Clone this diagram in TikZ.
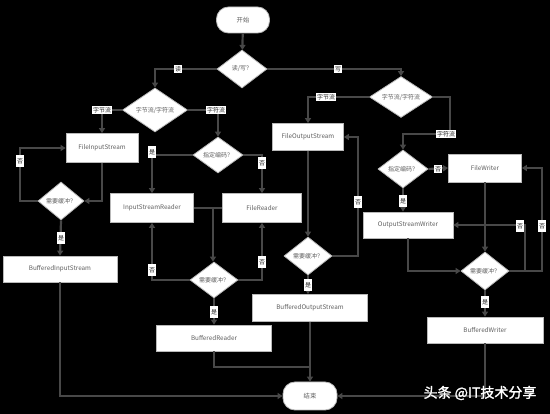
\documentclass[tikz,border=0pt]{standalone}
\usepackage{fontspec}
\setmainfont{Noto Sans CJK SC}
\newfontfamily\wmfont[FakeBold=1.5]{Noto Sans CJK SC}
\usetikzlibrary{shapes.geometric,arrows.meta}
\definecolor{lc}{RGB}{72,72,72}
\definecolor{tc}{RGB}{95,95,95}
\begin{document}
\begin{tikzpicture}[x=1pt,y=-1pt,
  box/.style={rectangle, draw=gray!55, line width=0.8pt, fill=white, text=tc,
    font=\fontsize{6.3}{7}\selectfont, inner sep=0pt},
  dia/.style={diamond, aspect=1.5, draw=gray!55, line width=0.8pt, fill=white, text=tc,
    font=\fontsize{6}{7}\selectfont, inner sep=0pt},
  term/.style={box, rounded corners=12pt},
  ln/.style={draw=lc, line width=2.2pt},
  arr/.style={ln, -{Triangle[length=5pt,width=6pt]}},
  lbl/.style={fill=white, text=black!85, font=\fontsize{6}{7}\selectfont, inner xsep=1pt, inner ysep=1.5pt},
  vlbl/.style={lbl, inner ysep=3.5pt}]
\fill[black] (0,0) rectangle (550,414);
\useasboundingbox (0,0) rectangle (550,414);

% nodes
\node[term, minimum width=53pt, minimum height=26pt] (start) at (243,20) {开始};
\node[dia, minimum width=50pt, minimum height=38pt] (rw) at (242,69) {读/写？};
\node[dia, minimum width=65pt, minimum height=44pt] (bcL) at (155,110) {字节流/字符流};
\node[dia, minimum width=63pt, minimum height=41pt] (bcR) at (401,97) {字节流/字符流};
\node[box, minimum width=72pt, minimum height=29pt] (fis) at (102,148) {FileInputStream};
\node[dia, minimum width=50pt, minimum height=36pt] (encL) at (218,155) {指定编码？};
\node[dia, minimum width=46pt, minimum height=38pt] (bufL) at (61,201) {需要缓冲？};
\node[box, minimum width=114pt, minimum height=26pt] (bis) at (60,269) {BufferedInputStream};
\node[box, minimum width=83pt, minimum height=29pt] (isr) at (152,208) {InputStreamReader};
\node[box, minimum width=79pt, minimum height=29pt] (fr) at (262,208) {FileReader};
\node[dia, minimum width=48pt, minimum height=36pt] (bufM) at (214,280) {需要缓冲？};
\node[box, minimum width=115pt, minimum height=26pt] (br) at (214,338) {BufferedReader};
\node[box, minimum width=71pt, minimum height=27pt] (fos) at (308,137) {FileOutputStream};
\node[dia, minimum width=48pt, minimum height=38pt] (bufO) at (308,256) {需要缓冲？};
\node[box, minimum width=115pt, minimum height=27pt] (bos) at (310,308) {BufferedOutputStream};
\node[dia, minimum width=50pt, minimum height=38pt] (encR) at (403,169) {指定编码？};
\node[box, minimum width=73pt, minimum height=28pt] (fw) at (485,168) {FileWriter};
\node[box, minimum width=90pt, minimum height=26pt] (osw) at (408,225) {OutputStreamWriter};
\node[dia, minimum width=48pt, minimum height=38pt] (bufW) at (485,271) {需要缓冲？};
\node[box, minimum width=116pt, minimum height=26pt] (bw) at (485,330) {BufferedWriter};
\node[term, minimum width=54pt, minimum height=28pt] (end) at (310,396) {结束};

% junction coordinates
\coordinate (jR) at (213,208);
\coordinate (jB) at (310,367);

% connectors
\draw[arr] (start) -- (rw);
\draw[arr] (rw.west) -| (bcL.north);
\draw[arr] (rw.east) -| (bcR.north);
\draw[arr] (bcL.west) -| (fis.north);
\draw[arr] (bcL.east) -| (encL.north);
\draw[arr] (bcR.west) -| (fos.north);
\draw[arr] (bcR.east) -- (450,97) -- (450,134) -| (encR.north);
\draw[arr] (fis.south) |- (bufL.east);
\draw[arr] (bufL.west) -- (20,201) |- (fis.west);
\draw[arr] (bufL.south) -- (bis.north);
\draw[arr] (bis.south) |- (end.west);
\draw[arr] (encL.west) -| (isr.north);
\draw[arr] (encL.east) -| (fr.north);
\draw[ln] (isr.east) -- (fr.west);
\draw[arr] (jR) -- (jR |- bufM.north);
\draw[arr] (bufM.west) -| (isr.south);
\draw[arr] (bufM.east) -| (fr.south);
\draw[arr] (bufM.south) -- (br.north);
\draw[ln] (br.south) |- (jB);
\draw[arr] (fos.south) -- (bufO.north);
\draw[arr] (bufO.east) -- (358,256) |- (fos.east);
\draw[arr] (bufO.south) -- (bufO.south |- bos.north);
\draw[arr] (bos.south) -- (end.north);
\draw[arr] (encR.east) -- (fw.west);
\draw[arr] (encR.south) -- (encR.south |- osw.north);
\draw[arr] (fw.south) -- (bufW.north);
\draw[arr] (osw.south) |- (bufW.west);
\draw[arr] (bufW.east) -- (525,271) |- (osw.east);
\draw[arr] (bufW.east) -- (542,271) |- (fw.east);
\draw[arr] (bufW.south) -- (bw.north);
\draw[arr] (bw.south) |- (end.east);

% labels
\node[lbl] (l1) at (178,69) {读};
\node[lbl] (l2) at (338,69) {写};
\node[lbl] (l3) at (102,110) {字节流};
\node[lbl] (l4) at (216,110) {字符流};
\node[lbl] (l5) at (326,97) {字节流};
\node[lbl] (l6) at (446,134) {字符流};
\node[vlbl] (l7) at (20,161) {否};
\node[vlbl] (l8) at (61,238) {是};
\node[vlbl] (l9) at (152,152) {是};
\node[vlbl] (l10) at (262,163) {否};
\node[vlbl] (l11) at (152,270) {否};
\node[vlbl] (l12) at (262,262) {否};
\node[vlbl] (l13) at (214,312) {是};
\node[vlbl] (l14) at (358,202) {否};
\node[vlbl] (l15) at (308,285) {是};
\node[lbl] (l16) at (438,169) {否};
\node[vlbl] (l17) at (403,201) {是};
\node[vlbl] (l18) at (520,226) {否};
\node[vlbl] (l19) at (542,226) {否};
\node[vlbl] (l20) at (485,302) {是};

% watermark
\node[text=white, font=\wmfont\fontsize{14}{14}\selectfont, inner sep=0pt] (wm) at (480,393) {头条 @IT技术分享};
\end{tikzpicture}
\end{document}
